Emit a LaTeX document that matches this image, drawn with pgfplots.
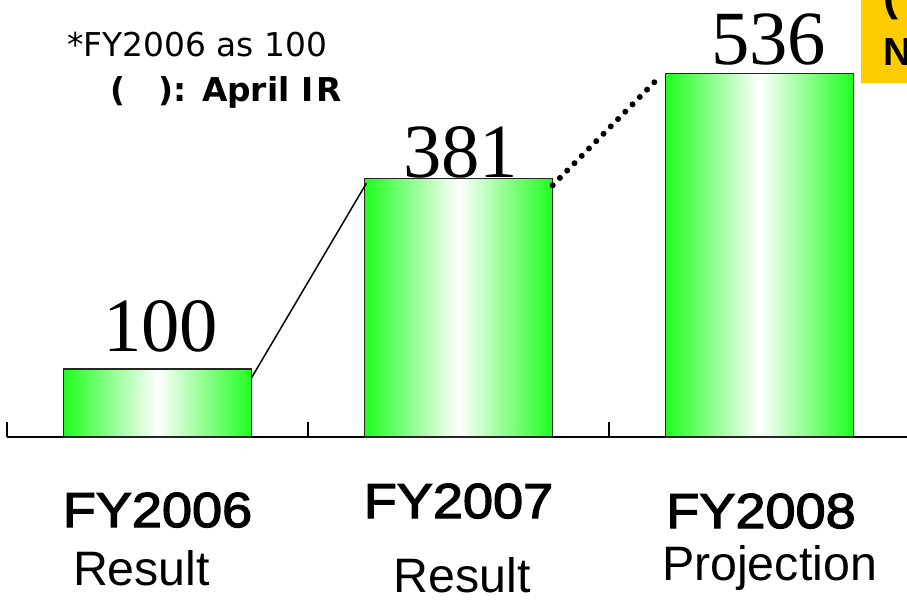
\documentclass[border=0pt]{standalone}
\usepackage{pgfplots}
\pgfplotsset{compat=1.18}
\usepackage{fontspec}
\setmainfont{Liberation Sans}
\newfontfamily\numfont{Liberation Serif}
\newfontfamily\notefont{DejaVu Sans}
\newfontfamily\fyfont[FakeStretch=1.1, FakeBold=2.6]{Liberation Sans}
\definecolor{bargreen}{RGB}{30,255,30}
\definecolor{notebox}{RGB}{255,204,0}

\pgfplotsset{
    greenbar/.style={ybar, bar width=0.625, bar shift=0pt, draw=black!85, line width=0.8pt,
        left color=bargreen, right color=bargreen, middle color=white,
        nodes near coords,
        visualization depends on={\thisrow{off} \as \off},
        visualization depends on={\thisrow{dx} \as \dx},
        nodes near coords style={font=\numfont\fontsize{46}{46}\selectfont,
            anchor=base, yshift=\off*0.6pt, xshift=\dx*0.6pt, text=black, inner sep=0pt,
            /pgf/number format/assume math mode=true}},
}

\begin{document}
\begin{tikzpicture}
% 1 px of the reference = 0.6pt
\useasboundingbox (0,0) rectangle ({907*0.6pt},{-601*0.6pt});
\clip (0,0) rectangle ({907*0.6pt},{-601*0.6pt});

\begin{axis}[
    at={({7*0.6pt},{-437*0.6pt})}, anchor=south west,
    scale only axis, width=541.8pt, height=262.2pt,
    xmin=-0.5, xmax=2.5, ymin=0, ymax=644,
    axis x line*=bottom, axis y line=none,
    x axis line style={line width=1.2pt, black, -},
    xtick={-0.5,0.5,1.5}, xticklabels={,,},
    tick align=inside, major tick length=9pt,
    xtick style={line width=1.2pt, black},
    ytick=\empty,
    clip=false,
    /pgf/number format/assume math mode=true,
    ]
    % one plot per bar so each gets its own shading; label offsets in px
    \addplot[greenbar] table {
        x y off dx
        0 100 18 3
    };
    \addplot[greenbar] table {
        x y off dx
        1 381 1 2
    };
    \addplot[greenbar] table {
        x y off dx
        2 536 9 9
    };
    % connectors
    \addplot[black, line width=0.9pt] coordinates {(0.312,87) (0.694,374)};
    \addplot[black, line width=3.6pt, line cap=round, dash pattern=on 0pt off 6.2pt]
        coordinates {(1.313,371) (1.651,523)};
\end{axis}

% notes top left
\node[anchor=base west, inner sep=0] at ({67*0.6pt},{-56*0.6pt})
    {\notefont\fontsize{19.7}{22}\selectfont *FY2006 as 100};
\node[anchor=base west, inner sep=0] at ({110*0.6pt},{-101*0.6pt})
    {\notefont\bfseries\fontsize{19.7}{22}\selectfont (\hspace{20pt}): April I\kern2pt R};

% orange note box, cut by the edge
\fill[notebox] ({861*0.6pt},{10*0.6pt}) rectangle ({920*0.6pt},{-83*0.6pt});
\node[anchor=base west, inner sep=0] at ({883*0.6pt},{-10*0.6pt})
    {\bfseries\fontsize{27}{30}\selectfont (};
\node[anchor=base west, inner sep=0] at ({883*0.6pt},{-65*0.6pt})
    {\bfseries\fontsize{23.5}{26}\selectfont N};

% category labels
\node[anchor=base] at ({157.5*0.6pt},{-527*0.6pt}) {\fyfont\fontsize{29.5}{32}\selectfont FY2006};
\node[anchor=base] at ({141.5*0.6pt},{-585*0.6pt}) {\fontsize{29}{32}\selectfont Result};
\node[anchor=base] at ({458.5*0.6pt},{-518*0.6pt}) {\fyfont\fontsize{29.5}{32}\selectfont FY2007};
\node[anchor=base] at ({462*0.6pt},{-592*0.6pt}) {\fontsize{29}{32}\selectfont Result};
\node[anchor=base] at ({761*0.6pt},{-528*0.6pt}) {\fyfont\fontsize{29.5}{32}\selectfont FY2008};
\node[anchor=base] at ({769.5*0.6pt},{-580*0.6pt}) {\fontsize{29}{32}\selectfont Projection};
\end{tikzpicture}
\end{document}
